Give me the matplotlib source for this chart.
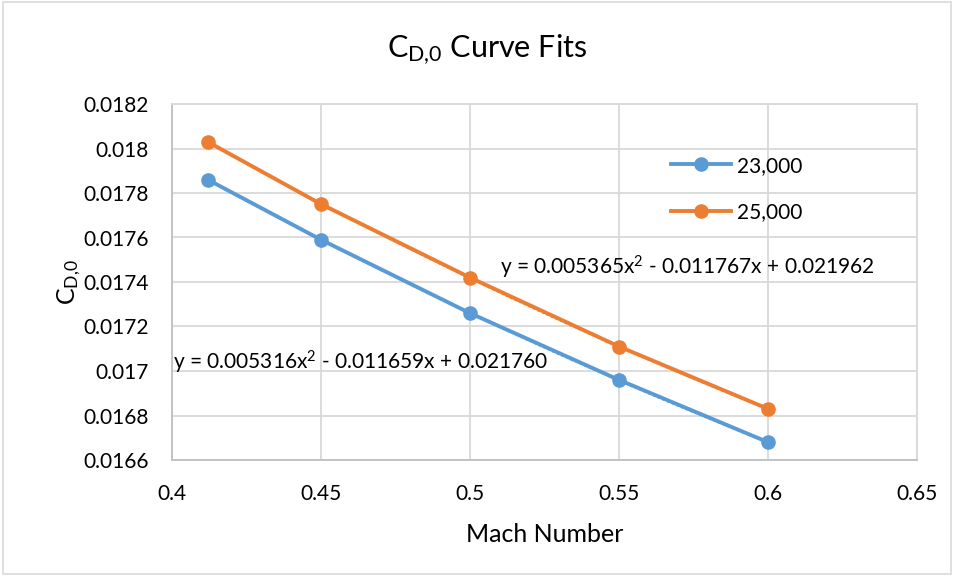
import numpy as np
import matplotlib
matplotlib.use("Agg")
import matplotlib.pyplot as plt
from matplotlib.patches import Rectangle

mach = [0.412, 0.45, 0.50, 0.55, 0.60]
cd0_23000 = [0.01786, 0.01759, 0.01726, 0.01696, 0.01668]
cd0_25000 = [0.01803, 0.01775, 0.01742, 0.01711, 0.01683]
series_names = ["23,000", "25,000"]
eq_23000 = "y = 0.005316x$^2$ - 0.011659x + 0.021760"
eq_25000 = "y = 0.005365x$^2$ - 0.011767x + 0.021962"
xticks = [0.4, 0.45, 0.5, 0.55, 0.6, 0.65]
yticks = [0.0166, 0.0168, 0.017, 0.0172, 0.0174, 0.0176, 0.0178, 0.018, 0.0182]

fam = ["Lato", "DejaVu Sans"]
plt.rcParams['font.family'] = fam
plt.rcParams['mathtext.fontset'] = 'custom'
plt.rcParams['mathtext.rm'] = 'Lato'
plt.rcParams['mathtext.it'] = 'Lato'
plt.rcParams['mathtext.bf'] = 'Lato'

blue = "#5b9bd5"
orange = "#ed7d31"
grid = "#d9d9d9"

fig = plt.figure(figsize=(9.54, 5.76), dpi=100)
ax = fig.add_axes([172/954, 1-460/576, (917-172)/954, (460-104)/576])

for ys, c, name in [(cd0_23000, blue, series_names[0]), (cd0_25000, orange, series_names[1])]:
    ax.plot(mach, ys, color=c, lw=2.8, marker="o", ms=9.5, label=name, zorder=3)
    coef = np.polyfit(mach, ys, 2)
    xf = np.linspace(min(mach), max(mach), 100)
    ax.plot(xf, np.polyval(coef, xf), color=c, lw=1.8, ls=(0, (1, 1)), zorder=2)

ax.set_xlim(0.4, 0.65)
ax.set_ylim(0.0166, 0.0182)
ax.set_xticks(xticks)
ax.set_xticklabels([f"{v:g}" for v in xticks])
ax.set_yticks(yticks)
ax.set_yticklabels([f"{v:g}" for v in yticks])
ax.grid(True, color=grid, lw=1.3)
ax.set_axisbelow(True)
for s in ax.spines.values():
    s.set_color(grid)
    s.set_linewidth(1.3)
ax.spines['left'].set_color("#bfbfbf")
ax.spines['bottom'].set_color("#bfbfbf")
ax.tick_params(length=0, labelsize=15, colors="#000000")
ax.tick_params(axis="y", pad=17)
ax.tick_params(axis="x", pad=17)

ax.text(0.5102, 0.017467, eq_25000, fontsize=15, va="center", ha="left")
ax.text(0.4003, 0.01704, eq_23000, fontsize=15, va="center", ha="left")

ax.set_xlabel("Mach Number", fontsize=18, labelpad=14)
ax.set_ylabel(r"C$_{\mathrm{D{,}0}}$", fontsize=18, labelpad=0)
fig.text(487/954, 1-50/576, r"C$_{\mathrm{D{,}0}}$ Curve Fits",
         fontsize=22, ha="center", va="center")

leg = ax.legend(loc="upper left", bbox_to_anchor=((652-172)/745, 1-(137-104)/356),
                frameon=False, fontsize=15, handlelength=2.9, labelspacing=1.25,
                handletextpad=0.3)

fig.patches.append(Rectangle((3/954, 2/576), 948/954, 572/576, transform=fig.transFigure,
                             fill=False, edgecolor="#d9d9d9", lw=1.2))
fig.savefig("out.png", dpi=100)
